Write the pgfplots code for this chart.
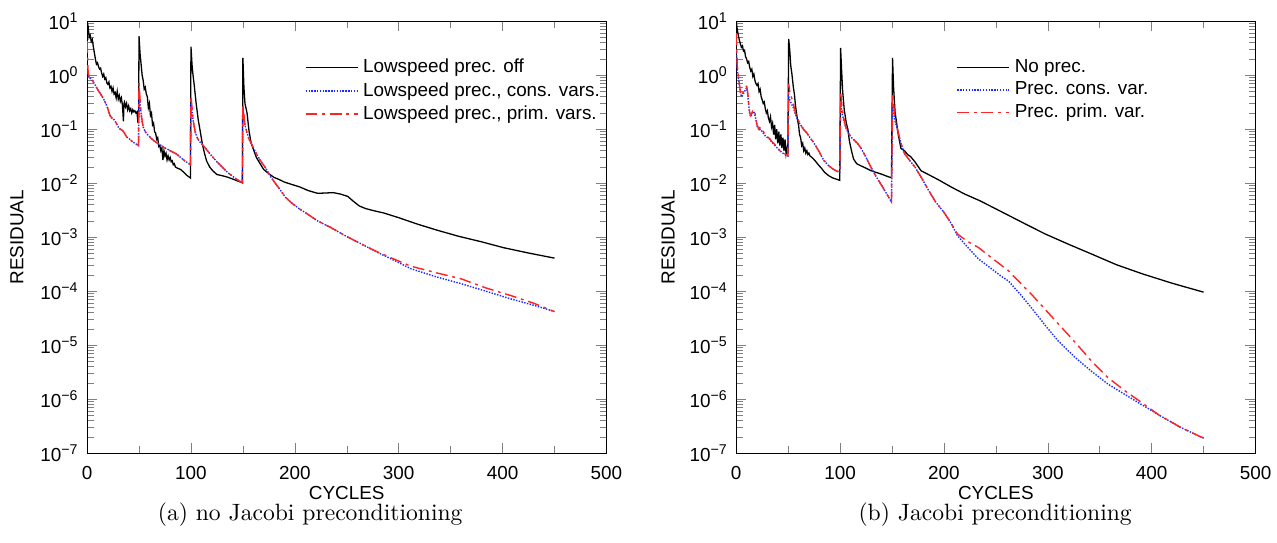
\documentclass[border=0pt]{standalone}
\usepackage{fontspec}
\newfontfamily\axfont{Liberation Sans}
\usepackage{pgfplots}
\pgfplotsset{compat=1.18}

\definecolor{cblue}{RGB}{25,45,255}
\definecolor{cred}{RGB}{255,35,35}

\newcommand\axsize{\axfont\fontsize{8}{9.6}\selectfont}
\newcommand\tenlabel{\pgfmathtruncatemacro{\ex}{round(\tick/ln(10))}%
  \ifnum\ex<0 10\textsuperscript{\char"2212\relax\the\numexpr-\ex\relax}\else 10\textsuperscript{\ex}\fi}

\tikzset{
  blk/.style={color=black, line width=0.55pt},
  blu/.style={color=cblue, line width=0.6pt, dash pattern=on 0.6pt off 0.6pt},
  rd/.style={color=cred, line width=0.6pt, dash pattern=on 5pt off 2pt on 1.2pt off 2pt},
}

\begin{document}
\begin{tikzpicture}
\useasboundingbox (0,0) rectangle (541pt,230pt);

% (a) no Jacobi preconditioning
\begin{axis}[
  at={(36.9pt,38pt)}, anchor=south west,
  scale only axis, width=220pt, height=183pt,
  ymode=log, xmin=0, xmax=500, ymin=1e-7, ymax=10,
  xtick={0,100,200,300,400,500}, minor x tick num=1,
  ytick={1e-7,1e-6,1e-5,1e-4,1e-3,1e-2,1e-1,1,10},
  yticklabel={\tenlabel},
  tick label style={font=\axsize},
  xticklabel style={yshift=-2pt},
  label style={font=\axsize},
  /pgf/number format/assume math mode=true,
  xlabel={CYCLES}, ylabel={RESIDUAL},
  xlabel style={at={(axis description cs:0.5,0)}, anchor=center, yshift=-17pt},
  ylabel style={at={(axis description cs:-0.135,0.5)}, anchor=center},
  legend style={draw=none, fill=none, font=\axsize, anchor=north west,
    at={(axis description cs:0.405,0.935)}, cells={anchor=west}, row sep=-1.5pt},
  legend image code/.code={\draw[#1] (0pt,0pt) -- (19pt,0pt); \path (0pt,0pt) -- (22pt,0pt);},
]
\addplot[blk] coordinates {
(0,10) (1,8) (2,5) (3,5.5) (4,4.2) (5,4.6) (6,3.4) (7,2.6) (8,2.0) (9,1.6)
(10,1.7) (11,1.45) (12,1.3) (13,1.35) (14,1.1) (15,0.95) (16,1.05) (17,0.85) (18,0.9) (19,0.72)
(20,0.68) (21,0.75) (22,0.58) (23,0.62) (24,0.5) (25,0.58) (26,0.45) (27,0.48) (28,0.38) (29,0.5)
(30,0.36) (31,0.42) (32,0.33) (33,0.38) (34,0.28) (35,0.14) (35.5,0.3) (36,0.32) (37,0.26) (38,0.3)
(39,0.23) (40,0.27) (41,0.22) (42,0.24) (43,0.2) (44,0.23) (45,0.21) (46,0.22) (47,0.2) (48,0.21)
(49,0.13) (49.6,0.17) (50,5.3) (51,2.5) (52,1.6) (53,1.0) (54,0.8) (55,0.55) (56,0.6) (57,0.45) (58,0.4)
(59,0.25) (60,0.3) (61,0.18) (62,0.2) (63,0.12) (64,0.13) (65,0.09) (66,0.085) (67,0.065) (68,0.07)
(69,0.048) (70,0.05) (71,0.04) (72,0.045) (73,0.027) (74,0.04) (75,0.032) (76,0.036) (77,0.027) (78,0.032)
(79,0.027) (80,0.03) (81,0.025) (82,0.026) (83,0.022) (84,0.023) (85,0.02) (87,0.019) (90,0.018) (93,0.016)
(96,0.014) (99.5,0.0125) (100,3.4) (101,1.6) (102,1.0) (103,0.7) (105,0.3) (107,0.15) (109,0.09) (111,0.053)
(113,0.036) (115,0.026) (118,0.02) (121,0.017) (125,0.0145) (130,0.0138) (135,0.013) (140,0.012) (145,0.011) (149.5,0.0102)
(150,2.1) (151,0.6) (152,0.3) (154,0.2) (156,0.09) (158,0.055) (160,0.043) (163,0.03) (166,0.024) (170,0.018)
(175,0.015) (180,0.0128) (185,0.0117) (190,0.0105) (197,0.0095) (205,0.0085) (213,0.0073) (222,0.0065) (230,0.0066) (237,0.0067)
(244,0.0063) (251,0.0057) (256,0.0047) (262,0.0038) (268,0.0034) (276,0.0031) (286,0.0028) (300,0.0023) (318,0.00175) (337,0.00135)
(357,0.00105) (380,8.2e-4) (401,6.4e-4) (425,5.1e-4) (450,4.1e-4)
};
\addlegendentry{Lowspeed prec. off}
\addplot[blu] coordinates {
(0,1.4) (0.5,1.1) (1,0.95) (2,0.92) (3,0.88) (4,0.84) (6,0.75) (8,0.65) (10,0.55) (12,0.48)
(14,0.42) (16,0.36) (18,0.3) (20,0.24) (22,0.18) (24,0.16) (26,0.15) (28,0.13) (30,0.11) (32,0.1)
(34,0.095) (36,0.085) (38,0.072) (40,0.068) (42,0.063) (44,0.058) (46,0.055) (48,0.052) (49.5,0.05) (50,0.45)
(51,0.3) (52,0.19) (53,0.14) (54,0.11) (56,0.09) (58,0.08) (61,0.07) (64,0.062) (67,0.056) (70,0.052)
(74,0.046) (78,0.042) (82,0.038) (86,0.035) (90,0.03) (94,0.026) (98,0.023) (99.5,0.022) (100,0.35) (101,0.23)
(102,0.15) (104,0.09) (106,0.07) (108,0.06) (111,0.052) (115,0.042) (120,0.032) (125,0.025) (130,0.02) (135,0.016)
(140,0.0135) (145,0.0115) (149.5,0.0102) (150,0.25) (151,0.17) (152,0.12) (154,0.085) (156,0.065) (159,0.05) (163,0.035)
(167,0.026) (172,0.019) (177,0.013) (182,0.0095) (186,0.0075) (191,0.0055) (197,0.0043) (203,0.0035) (212,0.0027) (222,0.002)
(235,0.0015) (248,0.00108) (264,7.5e-4) (280,5.2e-4) (296,3.7e-4) (312,2.6e-4) (336,1.85e-4) (360,1.38e-4) (384,1.0e-4) (408,7.2e-5)
(430,5.5e-5) (450,4.2e-5)
};
\addlegendentry{Lowspeed prec., cons. vars.}
\addplot[rd] coordinates {
(0,4.3) (0.5,2.0) (1,1.1) (2,0.95) (3,0.9) (4,0.85) (6,0.75) (8,0.65) (10,0.55) (12,0.48)
(14,0.42) (16,0.36) (18,0.3) (20,0.24) (22,0.18) (24,0.16) (26,0.15) (28,0.13) (30,0.11) (32,0.1)
(34,0.095) (36,0.085) (38,0.072) (40,0.068) (42,0.063) (44,0.058) (46,0.055) (48,0.052) (49.5,0.05) (50,0.72)
(51,0.35) (52,0.2) (53,0.14) (54,0.11) (56,0.09) (58,0.08) (61,0.07) (64,0.062) (67,0.056) (70,0.052)
(74,0.046) (78,0.042) (82,0.038) (86,0.035) (90,0.03) (94,0.026) (98,0.023) (99.5,0.022) (100,0.41) (101,0.25)
(102,0.15) (104,0.09) (106,0.07) (108,0.06) (111,0.052) (115,0.042) (120,0.032) (125,0.025) (130,0.02) (135,0.016)
(140,0.0135) (145,0.0115) (149.5,0.0102) (150,0.29) (151,0.18) (152,0.12) (154,0.085) (156,0.065) (159,0.05) (163,0.035)
(167,0.026) (172,0.019) (177,0.013) (182,0.0095) (186,0.0075) (191,0.0055) (197,0.0043) (203,0.0035) (212,0.0027) (222,0.002)
(235,0.0015) (248,0.00108) (264,7.5e-4) (280,5.3e-4) (296,3.9e-4) (312,2.9e-4) (336,2.2e-4) (360,1.7e-4) (384,1.15e-4) (408,8.3e-5)
(430,6.0e-5) (450,4.2e-5)
};
\addlegendentry{Lowspeed prec., prim. vars.}
\end{axis}

% (b) Jacobi preconditioning
\begin{axis}[
  at={(311.9pt,38pt)}, anchor=south west,
  scale only axis, width=220pt, height=183pt,
  ymode=log, xmin=0, xmax=500, ymin=1e-7, ymax=10,
  xtick={0,100,200,300,400,500}, minor x tick num=1,
  ytick={1e-7,1e-6,1e-5,1e-4,1e-3,1e-2,1e-1,1,10},
  yticklabel={\tenlabel},
  tick label style={font=\axsize},
  xticklabel style={yshift=-2pt},
  label style={font=\axsize},
  /pgf/number format/assume math mode=true,
  xlabel={CYCLES}, ylabel={RESIDUAL},
  xlabel style={at={(axis description cs:0.5,0)}, anchor=center, yshift=-17pt},
  ylabel style={at={(axis description cs:-0.131,0.5)}, anchor=center},
  legend style={draw=none, fill=none, font=\axsize, anchor=north west,
    at={(axis description cs:0.41,0.935)}, cells={anchor=west}, row sep=-1.5pt},
  legend image code/.code={\draw[#1] (0pt,0pt) -- (19pt,0pt); \path (0pt,0pt) -- (22pt,0pt);},
]
\addplot[blk] coordinates {
(0,10) (1,7) (2,5.5) (3,4.5) (4,3.8) (5,3.3) (6,3.5) (7,2.8) (8,2.9) (9,2.2)
(10,2.0) (11,1.7) (12,1.8) (13,1.4) (14,1.2) (15,1.3) (16,0.95) (17,1.05) (18,0.8) (19,0.7)
(20,0.65) (21,0.7) (22,0.5) (23,0.55) (24,0.4) (25,0.35) (26,0.3) (27,0.32) (28,0.24) (29,0.2)
(30,0.22) (31,0.16) (32,0.14) (33,0.17) (34,0.11) (35,0.13) (36,0.08) (37,0.12) (38,0.065) (39,0.1)
(40,0.055) (41,0.09) (42,0.05) (43,0.08) (44,0.045) (45,0.07) (46,0.04) (47,0.065) (48,0.035) (49,0.045)
(49.7,0.035) (50.5,4.7) (51.5,3) (52.5,1.5) (53.5,1.1) (55,0.6) (56,0.45) (57,0.28) (58,0.2) (59,0.15)
(60,0.12) (61,0.08) (62,0.07) (63,0.05) (64,0.055) (65,0.04) (66,0.045) (67,0.036) (68,0.04) (69,0.034)
(70,0.036) (71,0.032) (73,0.03) (76,0.026) (79,0.022) (82,0.019) (85,0.016) (89,0.0138) (93,0.0125) (97,0.0118)
(99.7,0.0113) (100.5,3.2) (101.5,1.2) (102.5,0.5) (104,0.23) (106,0.13) (107.5,0.1) (109,0.06) (111,0.04) (113,0.028)
(116,0.023) (120,0.021) (125,0.019) (130,0.017) (135,0.0158) (140,0.0147) (145,0.0135) (149.5,0.0126) (150.5,2.1) (151.5,0.6)
(153,0.2) (154,0.15) (156,0.08) (158.6,0.044) (162,0.04) (165,0.034) (168,0.031) (172,0.025) (178,0.017) (185,0.0145)
(195,0.0115) (207,0.0085) (220,0.0063) (235,0.0047) (252,0.0032) (275,0.0019) (297,0.00116) (320,7.4e-4) (342,4.9e-4) (366,3.1e-4)
(391,2.1e-4) (420,1.4e-4) (450,9.6e-5)
};
\addlegendentry{No prec.}
\addplot[blu] coordinates {
(0,3) (0.5,2.2) (1,1.3) (2,0.9) (3,0.65) (4,0.48) (5,0.4) (6,0.42) (7,0.46) (8,0.5)
(9,0.55) (10,0.58) (11,0.45) (12,0.28) (13,0.19) (14,0.17) (15,0.19) (16,0.21) (17,0.21) (18,0.18)
(19,0.15) (20,0.115) (21,0.105) (22,0.095) (23,0.1) (24,0.095) (25,0.09) (26,0.085) (27,0.08) (28,0.075)
(29,0.072) (30,0.07) (32,0.066) (34,0.058) (36,0.053) (38,0.048) (40,0.044) (42,0.04) (44,0.037) (46,0.035)
(48,0.033) (49.7,0.032) (50.5,0.4) (51.5,0.35) (53,0.3) (55,0.25) (57,0.19) (59,0.15) (62,0.12) (65,0.1)
(68,0.085) (71,0.07) (75,0.055) (80,0.038) (84,0.027) (88,0.022) (92,0.019) (96,0.017) (99.7,0.016) (100.5,0.3)
(101.5,0.22) (103,0.16) (105.4,0.11) (108,0.085) (111,0.07) (116.7,0.055) (120,0.045) (125,0.03) (129.6,0.02) (134,0.014)
(139,0.0098) (144,0.0068) (149.5,0.0045) (150.5,0.3) (151.5,0.22) (153,0.14) (155.4,0.095) (158,0.06) (161.8,0.036) (166,0.028)
(172,0.02) (178,0.013) (185,0.0075) (192,0.0045) (200,0.0029) (207,0.0018) (213,0.00107) (222,6.8e-4) (233,4e-4) (247,2.5e-4)
(255,1.9e-4) (262,1.55e-4) (273,9e-5) (284,5e-5) (297,2.4e-5) (310,1.2e-5) (326,6e-6) (342,3.3e-6) (358,1.9e-6) (375,1.2e-6)
(391,7.8e-7) (407,5.1e-7) (428,3e-7) (450,1.9e-7)
};
\addlegendentry{Prec. cons. var.}
\addplot[rd] coordinates {
(0,6) (0.5,3) (1,1.5) (2,1.0) (3,0.7) (4,0.5) (5,0.42) (6,0.45) (7,0.5) (8,0.55)
(9,0.6) (10,0.62) (11,0.5) (12,0.3) (13,0.2) (14,0.18) (15,0.2) (16,0.22) (17,0.23) (18,0.2)
(19,0.16) (20,0.12) (21,0.11) (22,0.1) (23,0.11) (24,0.1) (25,0.095) (26,0.09) (27,0.085) (28,0.078)
(29,0.075) (30,0.072) (32,0.068) (34,0.06) (36,0.055) (38,0.05) (40,0.045) (42,0.04) (44,0.038) (46,0.036)
(48,0.034) (49.7,0.033) (50.5,0.7) (51.5,0.5) (53,0.4) (55,0.3) (57,0.2) (59,0.16) (62,0.12) (65,0.098)
(68,0.085) (71,0.07) (75,0.055) (80,0.038) (84,0.027) (88,0.022) (92,0.019) (96,0.017) (99.7,0.016) (100.5,0.5)
(101.5,0.3) (103,0.18) (105.4,0.11) (108,0.085) (111,0.07) (116.7,0.055) (120,0.045) (125,0.03) (129.6,0.02) (134,0.014)
(139,0.0098) (144,0.0068) (149.5,0.0045) (150.5,0.46) (151.5,0.3) (153,0.15) (155.4,0.098) (158,0.06) (161.8,0.036) (166,0.028)
(172,0.02) (178,0.013) (185,0.0075) (192,0.0045) (200,0.0029) (207,0.0018) (213,0.00115) (222,8.5e-4) (233,6.5e-4) (247,4e-4)
(262,2.4e-4) (273,1.45e-4) (284,8.9e-5) (297,4.7e-5) (310,2.5e-5) (326,1.15e-5) (342,5.1e-6) (358,2.5e-6) (375,1.4e-6) (391,8.5e-7)
(407,5.1e-7) (428,3e-7) (450,1.9e-7)
};
\addlegendentry{Prec. prim. var.}
\end{axis}

\node[anchor=center] at (131.4pt,12.2pt) {(a) no Jacobi preconditioning};
\node[anchor=center] at (421.6pt,12.2pt) {(b) Jacobi preconditioning};
\end{tikzpicture}
\end{document}
